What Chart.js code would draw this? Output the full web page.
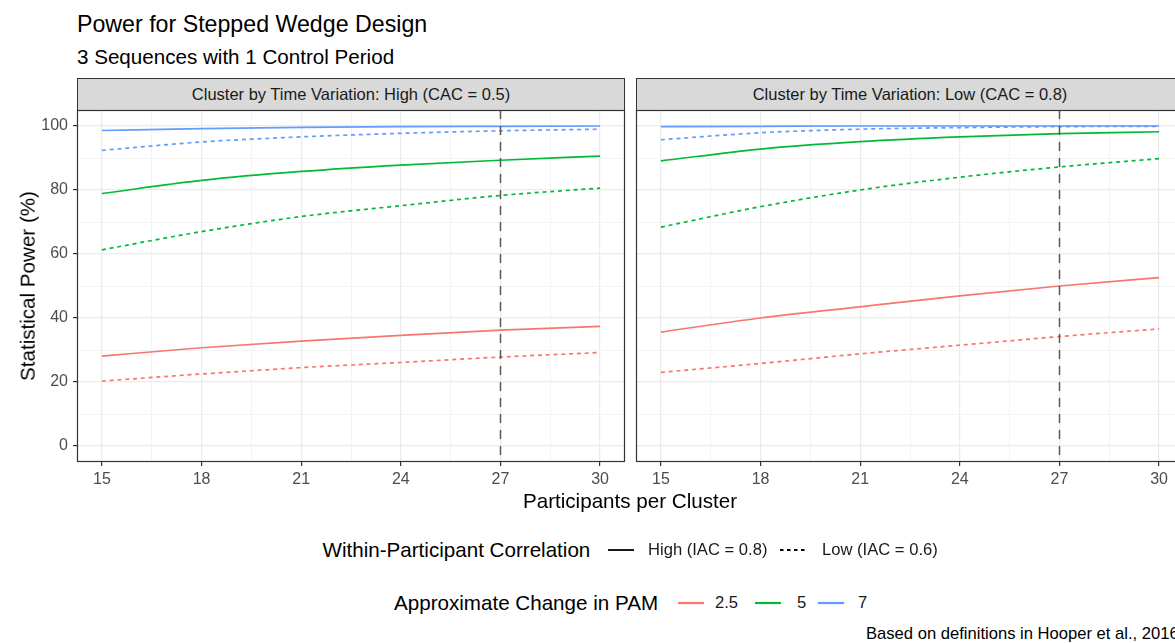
<!DOCTYPE html>
<html>
<head>
<meta charset="utf-8">
<script src="https://cdn.jsdelivr.net/npm/chart.js@4.4.1/dist/chart.umd.min.js"></script>
<style>
body { margin:0; width:1175px; height:643px; overflow:hidden; background:#fff; position:relative;
       font-family:"Liberation Sans", Arial, Helvetica, sans-serif; }
.t { position:absolute; white-space:nowrap; line-height:1; }
.mid { transform:translateY(-50%); }
.strip { position:absolute; top:78px; height:33px; width:548px; box-sizing:border-box;
         background:#D9D9D9; border:1px solid #333; color:#1A1A1A; font-size:16.5px;
         display:flex; align-items:center; justify-content:center; }
canvas { position:absolute; }
svg { position:absolute; overflow:visible; }
</style>
</head>
<body>

<div class="t" style="left:77px;top:12.5px;font-size:23.2px;color:#000;">Power for Stepped Wedge Design</div>
<div class="t" style="left:77px;top:47px;font-size:20.6px;color:#000;">3 Sequences with 1 Control Period</div>

<div class="strip" style="left:77px;">Cluster by Time Variation: High (CAC = 0.5)</div>
<div class="strip" style="left:636px;">Cluster by Time Variation: Low (CAC = 0.8)</div>

<canvas id="panelHigh" width="628" height="400" style="left:0;top:104px;"></canvas>
<canvas id="panelLow" width="557" height="400" style="left:630px;top:104px;"></canvas>

<div class="t mid" style="left:28px;top:286px;font-size:20.6px;color:#000;transform:translate(-50%,-50%) rotate(-90deg);">Statistical Power (%)</div>
<div class="t mid" style="left:630px;top:501px;font-size:20.6px;color:#000;transform:translate(-50%,-50%);">Participants per Cluster</div>

<div class="t mid" style="left:322.5px;top:550px;font-size:20.6px;">Within-Participant Correlation</div>
<svg style="left:608px;top:550px;" width="26" height="2"><line x1="0" y1="0" x2="26" y2="0" stroke="#000" stroke-width="1.8"/></svg>
<div class="t mid" style="left:648px;top:550px;font-size:16.6px;color:#1A1A1A;">High (IAC = 0.8)</div>
<svg style="left:780px;top:550px;" width="28" height="2"><line x1="0" y1="0" x2="28" y2="0" stroke="#000" stroke-width="1.8" stroke-dasharray="3.5 3.5"/></svg>
<div class="t mid" style="left:822px;top:550px;font-size:16.6px;color:#1A1A1A;">Low (IAC = 0.6)</div>

<div class="t mid" style="left:394px;top:603px;font-size:20.6px;">Approximate Change in PAM</div>
<div id="pamLegend"></div>

<div class="t mid" style="left:866px;top:634px;font-size:16.6px;color:#000;">Based on definitions in Hooper et al., 2016</div>

<script>
// participants per cluster (x)
const participants = [15, 18, 21, 24, 27, 30];
const xTicks = [15, 18, 21, 24, 27, 30];
const xMinor = [16.5, 19.5, 22.5, 25.5, 28.5];
const yTicks = [0, 20, 40, 60, 80, 100];
const yMinor = [10, 30, 50, 70, 90];
const refLineX = 27;

const pamLevels = ['2.5', '5', '7'];
const pamColors = ['#F8766D', '#00BA38', '#619CFF'];

// CAC = 0.5 (high cluster-by-time variation)
const cac05_pam25_high = [28.1, 30.7, 32.8, 34.6, 36.2, 37.4];
const cac05_pam25_low  = [20.3, 22.5, 24.5, 26.1, 27.8, 29.2];
const cac05_pam5_high  = [78.9, 83.0, 85.8, 87.8, 89.3, 90.6];
const cac05_pam5_low   = [61.3, 67.0, 71.7, 75.1, 78.3, 80.6];
const cac05_pam7_high  = [98.6, 99.2, 99.6, 99.8, 99.9, 100];
const cac05_pam7_low   = [92.4, 95.0, 96.6, 97.7, 98.5, 99.0];

// CAC = 0.8 (low cluster-by-time variation)
const cac08_pam25_high = [35.6, 40.0, 43.5, 46.9, 50.0, 52.6];
const cac08_pam25_low  = [23.0, 25.8, 28.8, 31.5, 34.2, 36.6];
const cac08_pam5_high  = [89.1, 92.8, 95.1, 96.6, 97.6, 98.2];
const cac08_pam5_low   = [68.4, 74.8, 80.0, 84.0, 87.2, 89.8];
const cac08_pam7_high  = [99.8, 99.9, 100, 100, 100, 100];
const cac08_pam7_low   = [95.7, 97.9, 99.0, 99.5, 99.8, 99.9];

// legend for PAM colours
(function () {
    const keys = [[678, 715], [755, 797], [818, 858]];
    let html = '';
    pamLevels.forEach((lab, i) => {
        html += `<svg style="left:${keys[i][0]}px;top:603px;" width="26" height="2"><line x1="0" y1="0" x2="26" y2="0" stroke="${pamColors[i]}" stroke-width="2.2"/></svg>`;
        html += `<div class="t mid" style="left:${keys[i][1]}px;top:603px;font-size:16.6px;color:#1A1A1A;">${lab}</div>`;
    });
    document.getElementById('pamLegend').innerHTML = html;
})();

function series(values, color, dashed) {
    return {
        data: participants.map((x, i) => ({ x: x, y: values[i] })),
        borderColor: color,
        borderWidth: 1.7,
        borderDash: dashed ? [4, 3.8] : [],
        pointRadius: 0,
        cubicInterpolationMode: 'monotone',
        fill: false
    };
}

const panelDecor = {
    id: 'panelDecor',
    afterDatasetsDraw(chart) {
        const ctx = chart.ctx, a = chart.chartArea;
        const x = Math.round(chart.scales.x.getPixelForValue(refLineX)) + 0.5;
        ctx.save();
        ctx.strokeStyle = '#5A5A5A';
        ctx.lineWidth = 1.5;
        ctx.setLineDash([9, 7]);
        ctx.beginPath();
        ctx.moveTo(x, a.top);
        ctx.lineTo(x, a.bottom);
        ctx.stroke();
        ctx.setLineDash([]);
        ctx.strokeStyle = '#333';
        ctx.lineWidth = 1.2;
        ctx.strokeRect(a.left + 0.5, a.top + 0.5, a.right - a.left - 1, a.bottom - a.top - 1);
        ctx.restore();
    }
};

function makePanel(id, datasets, showY) {
    const isMajorX = v => xTicks.includes(v);
    const isMajorY = v => yTicks.includes(v);
    new Chart(document.getElementById(id), {
        type: 'line',
        data: { datasets: datasets },
        plugins: [panelDecor],
        options: {
            responsive: false,
            animation: false,
            layout: { padding: { top: 6, right: 3, left: 0, bottom: 0 } },
            plugins: { legend: { display: false }, tooltip: { enabled: false } },
            scales: {
                x: {
                    type: 'linear', min: 14.25, max: 30.75,
                    afterBuildTicks: s => { s.ticks = xTicks.concat(xMinor).sort((a, b) => a - b).map(v => ({ value: v })); },
                    afterFit: s => { s.height = 42; s.paddingLeft = 0; s.paddingRight = 0; },
                    border: { display: false },
                    grid: {
                        color: c => isMajorX(c.tick.value) ? '#EBEBEB' : '#F3F3F3',
                        lineWidth: c => isMajorX(c.tick.value) ? 1.2 : 1,
                        tickColor: c => isMajorX(c.tick.value) ? '#333' : 'rgba(0,0,0,0)',
                        tickLength: 4, tickWidth: 1.2
                    },
                    ticks: {
                        autoSkip: false, maxRotation: 0, padding: 4,
                        color: '#4D4D4D', font: { size: 16, family: '"Liberation Sans", Arial' },
                        callback: v => isMajorX(v) ? String(v) : ''
                    }
                },
                y: {
                    min: -5, max: 105,
                    afterBuildTicks: s => { s.ticks = yTicks.concat(yMinor).sort((a, b) => a - b).map(v => ({ value: v })); },
                    afterFit: s => { s.width = showY ? 77 : 6; s.paddingTop = 0; s.paddingBottom = 0; },
                    border: { display: false },
                    grid: {
                        color: c => isMajorY(c.tick.value) ? '#EBEBEB' : '#F3F3F3',
                        lineWidth: c => isMajorY(c.tick.value) ? 1.2 : 1,
                        tickColor: c => isMajorY(c.tick.value) ? '#333' : 'rgba(0,0,0,0)',
                        drawTicks: showY, tickLength: 4, tickWidth: 1.2
                    },
                    ticks: {
                        display: showY, autoSkip: false, padding: 5,
                        color: '#4D4D4D', font: { size: 16, family: '"Liberation Sans", Arial' },
                        callback: v => isMajorY(v) ? String(v) : ''
                    }
                }
            }
        }
    });
}

makePanel('panelHigh', [
    series(cac05_pam25_high, pamColors[0], false),
    series(cac05_pam25_low,  pamColors[0], true),
    series(cac05_pam5_high,  pamColors[1], false),
    series(cac05_pam5_low,   pamColors[1], true),
    series(cac05_pam7_high,  pamColors[2], false),
    series(cac05_pam7_low,   pamColors[2], true)
], true);

makePanel('panelLow', [
    series(cac08_pam25_high, pamColors[0], false),
    series(cac08_pam25_low,  pamColors[0], true),
    series(cac08_pam5_high,  pamColors[1], false),
    series(cac08_pam5_low,   pamColors[1], true),
    series(cac08_pam7_high,  pamColors[2], false),
    series(cac08_pam7_low,   pamColors[2], true)
], false);
</script>
</body>
</html>
